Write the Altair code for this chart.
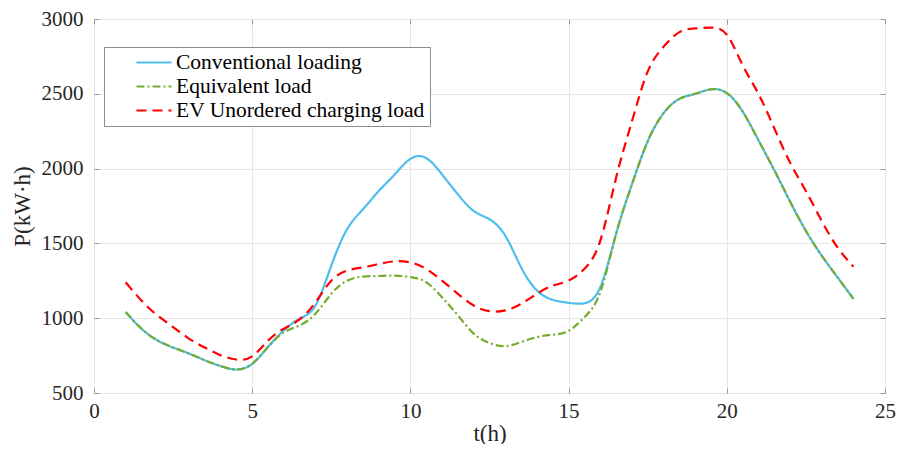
import altair as alt
import pandas as pd

hours = [1, 1.5, 2, 2.5, 3, 3.5, 4, 4.5, 5, 5.5, 6, 6.5, 7, 7.5, 8, 8.5, 9, 9.5,
         10, 10.5, 11, 11.5, 12, 12.5, 13, 13.5, 14, 14.5, 15, 15.5, 16, 16.5,
         17, 17.5, 18, 18.5, 19, 19.5, 20, 20.5, 21, 21.5, 22, 22.5, 23, 23.5, 24]

conventional = [1041, 930, 852, 804, 764, 719, 680, 657, 695, 808, 919, 997, 1085, 1351,
                1595, 1728, 1850, 1960, 2065, 2070, 1961, 1828, 1717, 1661, 1551, 1340,
                1185, 1123, 1103, 1100, 1207, 1563, 1894, 2182, 2370, 2466, 2500, 2530,
                2505, 2382, 2190, 1990, 1780, 1584, 1418, 1273, 1130]

equivalent = [1041, 930, 852, 804, 764, 719, 680, 657, 695, 808, 905, 952, 1030, 1163,
              1251, 1278, 1282, 1285, 1275, 1240, 1140, 1019, 897, 834, 813, 841,
              874, 890, 915, 1007, 1173, 1563, 1894, 2182, 2370, 2466, 2500, 2530,
              2505, 2382, 2190, 1990, 1780, 1584, 1418, 1273, 1130]

ev_unordered = [1240, 1118, 1019, 941, 864, 804, 753, 724, 745, 850, 930, 992, 1107, 1251,
                1318, 1340, 1362, 1380, 1373, 1329, 1251, 1163, 1085, 1047, 1052, 1096,
                1163, 1218, 1251, 1330, 1517, 1938, 2315, 2648, 2814, 2912, 2937, 2942,
                2895, 2692, 2500, 2270, 2040, 1850, 1650, 1473, 1344]

series_names = ["Conventional loading", "Equivalent load", "EV Unordered charging load"]
series_colors = ["#4DBEEE", "#77AC30", "#FF0000"]
series_dashes = [[1, 0], [8, 3, 2, 3], [10, 6]]

x_ticks = [0, 5, 10, 15, 20, 25]
y_ticks = [500, 1000, 1500, 2000, 2500, 3000]

rows = []
for name, vals in zip(series_names, [conventional, equivalent, ev_unordered]):
    for h, v in zip(hours, vals):
        rows.append({"t": h, "P": v, "series": name})
df = pd.DataFrame(rows)

W, H = 791, 374
FONT = "Liberation Serif"
FRAME = "#9a9a9a"

xs = alt.Scale(domain=[0, 25], nice=False, zero=False)
ys = alt.Scale(domain=[500, 3000], nice=False, zero=False)


def make_legend():
    return alt.Legend(
        title=None, orient="none", legendX=10, legendY=28,
        labelFont=FONT, labelFontSize=21.5, labelColor="#000000", labelLimit=500,
        symbolType="stroke", symbolSize=1225, symbolStrokeWidth=2.2,
        symbolOffset=26, labelOffset=3, clipHeight=21, rowPadding=2,
        fillColor="white", strokeColor="#8c8c8c", padding=5,
    )


lines = alt.Chart(df).mark_line(strokeWidth=2.2, interpolate="natural").encode(
    x=alt.X("t:Q", scale=xs, axis=alt.Axis(
        values=x_ticks, title="t(h)", grid=True, ticks=False, domain=False, format="d",
        labelFlush=False, labelOverlap=False, labelPadding=7, titlePadding=1,
        gridColor="#e6e6e6")),
    y=alt.Y("P:Q", scale=ys, axis=alt.Axis(
        values=y_ticks, title="P(kW·h)", grid=True, ticks=False, domain=False, format="d",
        labelFlush=False, labelOverlap=False, labelPadding=11, titlePadding=7,
        gridColor="#e6e6e6")),
    color=alt.Color("series:N", sort=series_names,
                    scale=alt.Scale(domain=series_names, range=series_colors),
                    legend=make_legend()),
    strokeDash=alt.StrokeDash("series:N", sort=series_names,
                              scale=alt.Scale(domain=series_names, range=series_dashes),
                              legend=make_legend()),
)

ticks_a = alt.Chart(df).mark_point(opacity=0).encode(
    x=alt.X("t:Q", scale=xs, axis=alt.Axis(
        orient="top", offset=-H, values=x_ticks, labels=False, domain=False,
        grid=False, ticks=True, tickSize=5, tickColor=FRAME, title=None)),
    y=alt.Y("P:Q", scale=ys, axis=alt.Axis(
        orient="right", offset=-W, values=y_ticks, labels=False, domain=False,
        grid=False, ticks=True, tickSize=5, tickColor=FRAME, title=None)),
)

ticks_b = alt.Chart(df).mark_point(opacity=0).encode(
    x=alt.X("t:Q", scale=xs, axis=alt.Axis(
        orient="bottom", offset=-H, values=x_ticks, labels=False, domain=False,
        grid=False, ticks=True, tickSize=5, tickColor=FRAME, title=None)),
    y=alt.Y("P:Q", scale=ys, axis=alt.Axis(
        orient="left", offset=-W, values=y_ticks, labels=False, domain=False,
        grid=False, ticks=True, tickSize=5, tickColor=FRAME, title=None)),
)

chart = alt.layer(lines, ticks_a, ticks_b).resolve_axis(
    x="independent", y="independent"
).properties(
    width=W, height=H, autosize=alt.AutoSizeParams(type="none"),
    padding={"left": 86, "top": 11, "right": 11, "bottom": 51},
    background="white",
).configure_view(
    stroke=FRAME, strokeWidth=1
).configure_axis(
    labelFont=FONT, titleFont=FONT, labelFontSize=21, titleFontSize=23,
    labelColor="#262626", titleColor="#262626", titleFontWeight="normal",
)

chart.save("out.html", embed_options={"renderer": "svg", "actions": False})
